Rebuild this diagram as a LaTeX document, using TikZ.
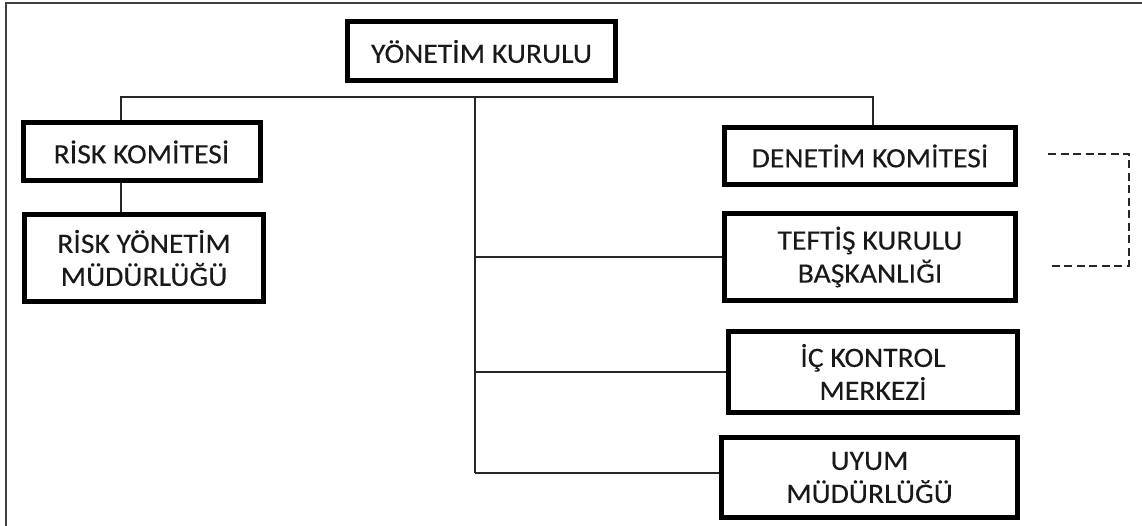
\documentclass[tikz,border=0pt]{standalone}
\usepackage{fontspec}
\setmainfont{Carlito}[FakeStretch=1.06,FakeBold=0.2]
\begin{document}
\begin{tikzpicture}[x=1pt,y=-1pt,
  unit/.style={draw=black,line width=5pt,fill=white,inner sep=0pt,align=center,
    font=\fontsize{28}{33}\selectfont,text=black!90},
  link/.style={draw=black!85,line width=1.6pt},
  dotlink/.style={draw=black!85,line width=1.8pt,dash pattern=on 8pt off 4.5pt},
  frameline/.style={draw=black!75,line width=2.2pt}]
\useasboundingbox (0,0) rectangle (1142,526);
% page frame (top and left edges)
\draw[frameline] (1142,3) -- (6,3) -- (6,526);

% units
\node[unit,minimum width=268pt,minimum height=59pt] (yk) at (481.5,51.5) {YÖNETİM KURULU};
\node[unit,minimum width=237pt,minimum height=58pt] (rk) at (141.5,152) {RİSK KOMİTESİ};
\node[unit,minimum width=239pt,minimum height=87pt] (rym) at (144,258) {RİSK YÖNETİM\\MÜDÜRLÜĞÜ};
\node[unit,minimum width=291pt,minimum height=57pt] (dk) at (870,156) {DENETİM KOMİTESİ};
\node[unit,minimum width=291pt,minimum height=87pt] (tk) at (870,257) {TEFTİŞ KURULU\\BAŞKANLIĞI};
\node[unit,minimum width=289pt,minimum height=81pt] (ic) at (873,372) {İÇ KONTROL\\MERKEZİ};
\node[unit,minimum width=296pt,minimum height=80pt] (uy) at (869.5,477.5) {UYUM\\MÜDÜRLÜĞÜ};

% bus and trunk points
\coordinate (busL) at (121,97);
\coordinate (busR) at (873,97);
\coordinate (trunkTop) at (475,97);
\coordinate (trunkBot) at (475,473);

% connectors
\draw[link] (rk.north -| busL) -- (busL) -- (busR) -- (busR |- dk.north);
\draw[link] (rk.south -| busL) -- (rym.north -| busL);
\draw[link] (trunkTop) -- (trunkBot);
\draw[link] (trunkTop |- tk.west) -- (tk.west);
\draw[link] (trunkTop |- ic.west) -- (ic.west);
\draw[link] (trunkBot) -- (uy.west |- trunkBot);

% dashed reporting line between the committees
\coordinate (dA) at (1048,154);
\coordinate (dB) at (1129,154);
\coordinate (dC) at (1129,266);
\coordinate (dD) at (1048,266);
\draw[dotlink] (dA) -- (dB) -- (dC) -- (dD);
\end{tikzpicture}
\end{document}
